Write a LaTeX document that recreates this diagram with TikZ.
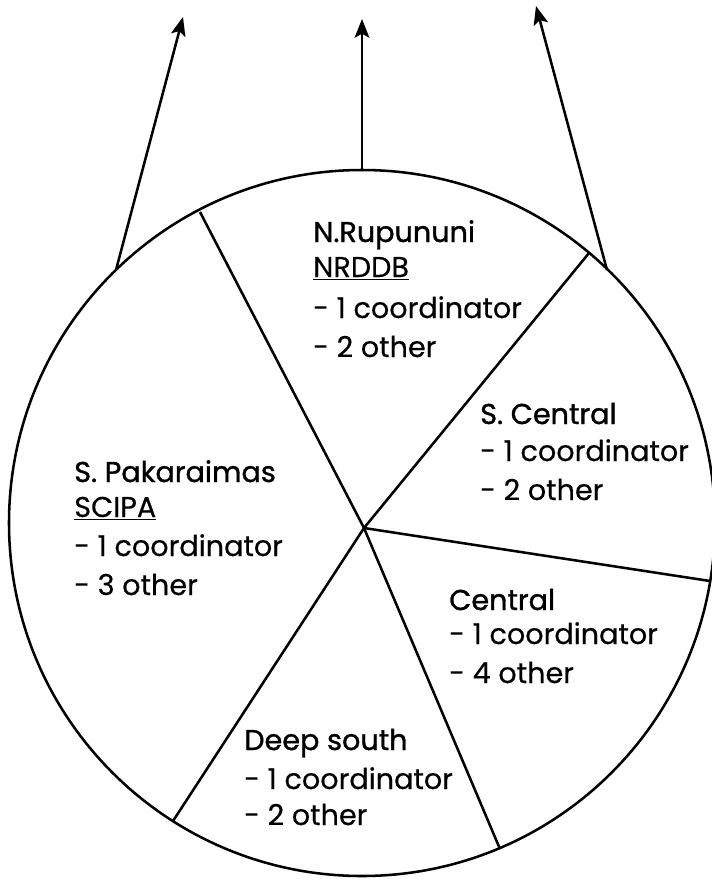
\documentclass[tikz,border=0pt]{standalone}
\usepackage{fontspec}
\setmainfont{Poppins}[FakeBold=0.4]
\newfontfamily\headfont{Poppins}[FakeBold=1.2]
\usetikzlibrary{arrows.meta}
\begin{document}
\begin{tikzpicture}[x=0.75pt,y=-0.75pt,
  line/.style={line width=1.9pt},
  arr/.style={line width=1.9pt,-{Stealth[length=14pt,width=11pt,inset=3pt]}},
  lbl/.style={anchor=base west,inner sep=0pt,font=\fontsize{21.5}{26}\selectfont},
  head/.style={anchor=base west,inner sep=0pt,font=\fontsize{21.5}{26}\selectfont\headfont}]
\useasboundingbox (0,0) rectangle (712,879);
\coordinate (c) at (362,523);
\coordinate (hub) at (364,528);
\coordinate (ul) at (200,212);
\coordinate (ur) at (589,253);
\coordinate (r) at (710,581);
\coordinate (lr) at (500,849);
\coordinate (ll) at (173,821);
\coordinate (lb) at (116,270);
\coordinate (cb) at (362,170);
\coordinate (rb) at (607,270);
\coordinate (lt) at (183,17);
\coordinate (ct) at (362,19);
\coordinate (rt) at (536,6);
\draw[line] (c) circle [radius=353];
\draw[line] (hub) -- (ul);
\draw[line] (hub) -- (ur);
\draw[line] (hub) -- (r);
\draw[line] (hub) -- (lr);
\draw[line] (hub) -- (ll);
\draw[arr] (lb) -- (lt);
\draw[arr] (cb) -- (ct);
\draw[arr] (rb) -- (rt);
% N. Rupununi
\node[head] (n1) at (313,242) {N.Rupununi};
\node[lbl] (n2) at (313,277) {\underline{NRDDB}};
\node[lbl] (n3) at (313,318) {- 1 coordinator};
\node[lbl] (n4) at (313,357) {- 2 other};
% S. Central
\node[head] (s1) at (480,424) {S. Central};
\node[lbl] (s2) at (480,461) {- 1 coordinator};
\node[lbl] (s3) at (480,500) {- 2 other};
% S. Pakaraimas
\node[head] (p1) at (74,482) {S. Pakaraimas};
\node[lbl] (p2) at (74,517) {\underline{SCIPA}};
\node[lbl] (p3) at (74,556) {- 1 coordinator};
\node[lbl] (p4) at (74,595) {- 3 other};
% Central
\node[head] (c1) at (449,610) {Central};
\node[lbl] (c2) at (449,644) {- 1 coordinator};
\node[lbl] (c3) at (449,683) {- 4 other};
% Deep south
\node[head] (d1) at (244,750) {Deep south};
\node[lbl] (d2) at (244,789) {- 1 coordinator};
\node[lbl] (d3) at (244,825) {- 2 other};
\end{tikzpicture}
\end{document}
